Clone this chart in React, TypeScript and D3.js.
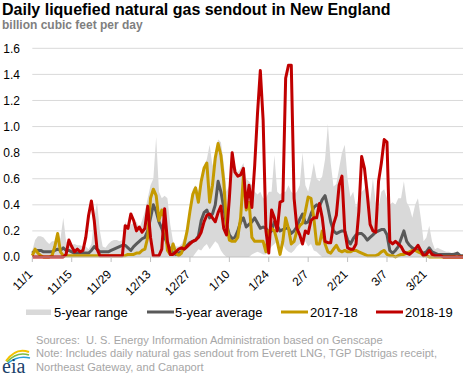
import React from "react";
import * as d3 from "d3";

const tickLabels = ["11/1", "11/15", "11/29", "12/13", "12/27", "1/10", "1/24", "2/7", "2/21", "3/7", "3/21"];
const tickDays = [0, 14, 28, 42, 56, 70, 84, 98, 112, 126, 140];
const yTicks = [0, 0.2, 0.4, 0.6, 0.8, 1.0, 1.2, 1.4, 1.6];

// days since Nov 1, index = day
const sendout2018_19 = [
  0, 0, 0, 0, 0, 0, 0, 0, 0, 0, 0, 0, 0.02, 0.13, 0.08, 0.04, 0.06, 0.04, 0.05, 0.15,
  0.32, 0.43, 0.28, 0.06, 0.01, 0.01, 0.01, 0.01, 0.01, 0.01, 0.01, 0.01, 0.01, 0.24, 0.22, 0.33, 0.28, 0.2, 0.23, 0.19,
  0.22, 0.39, 0.15, 0.01, 0.01, 0.01, 0.06, 0.37, 0.12, 0.02, 0.02, 0.04, 0.06, 0.07, 0.06, 0.08, 0.1, 0.12, 0.13, 0.15,
  0.19, 0.27, 0.32, 0.33, 0.3, 0.27, 0.34, 0.39, 0.22, 0.17, 0.45, 0.8, 0.65, 0.62, 0.63, 0.68, 0.38, 0.55, 0.38, 0.7,
  1.1, 1.43, 1.05, 0.2, 0.03, 0.36, 0.3, 0.2, 0.42, 0.43, 1.37, 1.47, 1.47, 0.45, 0.22, 0.17, 0.1, 0.2, 0.18, 0.28,
  0.3, 0.3, 0.41, 0.3, 0.12, 0.11, 0.11, 0.25, 0.32, 0.55, 0.62, 0.2, 0.07, 0.06, 0.06, 0.1, 0.35, 0.77, 0.68, 0.48,
  0.25, 0.2, 0.19, 0.58, 0.72, 0.9, 0.88, 0.12, 0.1, 0.12, 0.1, 0.08, 0.04, 0.03, 0.02, 0.04, 0.06, 0.09, 0.05, 0.01,
  0.02, 0.05, 0.02, 0.01, 0.01, 0.01, 0, 0, 0, 0, 0, 0, 0, 0,
];

const sendout2017_18 = [
  0.01, 0.06, 0.03, 0.01, 0, 0, 0, 0.01, 0.08, 0.18, 0.04, 0.01, 0.01, 0.01, 0.01, 0.01, 0.01, 0.01, 0.01, 0.01,
  0.01, 0.01, 0.01, 0.01, 0.01, 0.01, 0.01, 0.01, 0.01, 0.01, 0.01, 0.01, 0.01, 0.01, 0.02, 0.02, 0.02, 0.03, 0.03, 0.05,
  0.06, 0.15, 0.45, 0.52, 0.47, 0.28, 0.36, 0.3, 0.05, 0.02, 0.1, 0.03, 0.01, 0.03, 0.1, 0.2, 0.35, 0.48, 0.53, 0.42,
  0.58, 0.68, 0.72, 0.42, 0.55, 0.76, 0.87, 0.78, 0.58, 0.25, 0.13, 0.12, 0.12, 0.15, 0.3, 0.62, 0.36, 0.42, 0.15, 0.12,
  0.12, 0.12, 0.12, 0.04, 0.2, 0.22, 0.2, 0.12, 0.02, 0.12, 0.3, 0.22, 0.1, 0.12, 0.2, 0.24, 0.26, 0.35, 0.46, 0.45,
  0.3, 0.1, 0.1, 0.2, 0.1, 0.04, 0.03, 0.06, 0.09, 0.05, 0.04, 0.05, 0.04, 0.04, 0.05, 0.05, 0.04, 0.03, 0.02, 0.01,
  0.01, 0.01, 0.01, 0.02, 0.04, 0.05, 0.02, 0.01, 0.01, 0, 0.01, 0.02, 0.02, 0.03, 0.04, 0.05, 0.05, 0.04, 0.03, 0.01,
  0.01, 0, 0, 0, 0, 0, 0, 0, 0, 0, 0, 0, 0, 0,
];

const fiveYearAvg = [
  0.03, 0.05, 0.05, 0.05, 0.04, 0.04, 0.04, 0.04, 0.05, 0.06, 0.05, 0.07, 0.05, 0.05, 0.04, 0.03, 0.03, 0.03, 0.03, 0.03,
  0.03, 0.05, 0.08, 0.06, 0.04, 0.04, 0.04, 0.04, 0.05, 0.06, 0.07, 0.08, 0.09, 0.09, 0.07, 0.05, 0.08, 0.1, 0.12, 0.14,
  0.15, 0.2, 0.3, 0.4, 0.35, 0.27, 0.22, 0.15, 0.1, 0.06, 0.03, 0.02, 0.03, 0.04, 0.07, 0.09, 0.11, 0.12, 0.13, 0.16,
  0.28, 0.34, 0.36, 0.3, 0.33, 0.4, 0.58, 0.5, 0.38, 0.25, 0.17, 0.14, 0.15, 0.2, 0.27, 0.3, 0.23, 0.25, 0.27, 0.3,
  0.26, 0.22, 0.23, 0.22, 0.18, 0.2, 0.27, 0.24, 0.2, 0.21, 0.22, 0.22, 0.18, 0.2, 0.23, 0.29, 0.33, 0.26, 0.27, 0.33,
  0.38, 0.4, 0.39, 0.44, 0.47, 0.38, 0.27, 0.2, 0.18, 0.19, 0.2, 0.2, 0.13, 0.1, 0.14, 0.17, 0.18, 0.18, 0.16, 0.13,
  0.15, 0.17, 0.19, 0.2, 0.21, 0.21, 0.17, 0.05, 0.03, 0.05, 0.08, 0.14, 0.2, 0.12, 0.09, 0.07, 0.06, 0.05, 0.04, 0.03,
  0.04, 0.07, 0.04, 0.03, 0.02, 0.02, 0.02, 0.02, 0.02, 0.02, 0.02, 0.03, 0.01, 0.01,
];

const rangeMax = [
  0.05, 0.13, 0.16, 0.16, 0.15, 0.12, 0.1, 0.12, 0.12, 0.19, 0.14, 0.3, 0.12, 0.1, 0.09, 0.1, 0.09, 0.09, 0.08, 0.08,
  0.06, 0.1, 0.3, 0.42, 0.2, 0.08, 0.07, 0.1, 0.12, 0.13, 0.13, 0.12, 0.13, 0.27, 0.22, 0.25, 0.26, 0.27, 0.22, 0.28,
  0.35, 0.45, 0.55, 0.6, 0.92, 0.5, 0.45, 0.47, 0.45, 0.25, 0.12, 0.08, 0.08, 0.1, 0.15, 0.22, 0.38, 0.52, 0.55, 0.5,
  0.62, 0.7, 0.75, 0.86, 0.7, 0.8, 0.9, 0.88, 0.72, 0.5, 0.55, 0.82, 0.7, 0.65, 0.68, 0.72, 0.6, 0.58, 0.55, 0.5,
  0.48, 0.5, 0.45, 0.45, 0.5, 0.5, 0.78, 0.5, 0.48, 0.5, 0.5, 0.55, 0.5, 0.48, 0.5, 0.55, 0.8, 0.55, 0.5, 0.6,
  0.72, 0.6, 0.58, 0.62, 0.75, 1.02, 0.72, 0.54, 0.56, 0.68, 0.8, 0.86, 0.6, 0.46, 0.5, 0.38, 0.45, 0.5, 0.52, 0.6,
  0.42, 0.6, 0.42, 0.38, 0.5, 0.52, 0.45, 0.4, 0.42, 0.4, 0.45, 0.45, 0.58, 0.42, 0.38, 0.3, 0.4, 0.45, 0.3, 0.12,
  0.15, 0.24, 0.12, 0.06, 0.07, 0.06, 0.05, 0.04, 0.04, 0.03, 0.04, 0.03, 0.02, 0.01,
];

const rangeMin = [
  0, 0, 0, 0, 0, 0, 0, 0, 0, 0, 0, 0, 0, 0, 0, 0, 0, 0, 0, 0,
  0, 0, 0, 0, 0, 0, 0, 0, 0, 0, 0, 0, 0, 0, 0, 0, 0, 0, 0, 0,
  0, 0, 0, 0, 0, 0, 0, 0, 0, 0, 0, 0, 0, 0, 0, 0, 0, 0, 0.03, 0.06,
  0.05, 0.08, 0.1, 0.06, 0.09, 0.12, 0.1, 0.05, 0.02, 0, 0, 0, 0, 0, 0, 0, 0, 0, 0.02, 0.03,
  0.04, 0.03, 0.02, 0.02, 0.05, 0.08, 0.1, 0.12, 0.02, 0.1, 0.06, 0.04, 0.03, 0.05, 0.08, 0.1, 0.1, 0.12, 0.08, 0.1,
  0.05, 0.04, 0.02, 0, 0, 0, 0, 0, 0, 0, 0, 0, 0, 0, 0, 0, 0, 0, 0, 0,
  0, 0, 0, 0, 0, 0, 0, 0, 0, 0, 0, 0, 0, 0, 0, 0, 0, 0, 0, 0,
  0, 0, 0, 0, 0, 0, 0, 0, 0, 0, 0, 0, 0, 0,
];

const FONT = "'Liberation Sans', Arial, sans-serif";

export default function App() {
  const W = 468, H = 378;
  const x = d3.scaleLinear().domain([0, 153]).range([32.3, 463]);
  const y = d3.scaleLinear().domain([0, 1.6]).range([257, 48.3]);
  const days = d3.range(sendout2018_19.length);

  const area = d3
    .area<number>()
    .x((d) => x(d))
    .y0((d) => y(rangeMin[d]))
    .y1((d) => y(rangeMax[d]));
  const line = (arr: number[]) =>
    d3
      .line<number>()
      .x((d) => x(d))
      .y((d) => y(arr[d]))(days) as string;

  const legend = [
    { label: "5-year range", kind: "rect", color: "#d9d9d9", x0: 26, tx: 54 },
    { label: "5-year average", kind: "line", color: "#595959", x0: 147, tx: 175 },
    { label: "2017-18", kind: "line", color: "#c59a00", x0: 281, tx: 310 },
    { label: "2018-19", kind: "line", color: "#c00000", x0: 376, tx: 405 },
  ];

  return (
    <svg width={W} height={H} style={{ position: "absolute", left: 0, top: 0, background: "#fff" }} fontFamily={FONT}>
      <rect x={0} y={0} width={W} height={H} fill="#fff" />
      <text x={2} y={15} fontSize={16} fontWeight="bold" fill="#000">
        Daily liquefied natural gas sendout in New England
      </text>
      <text x={2} y={29} fontSize={12} fontWeight="bold" fill="#7f7f7f">
        billion cubic feet per day
      </text>

      {yTicks.map((t) => (
        <g key={t}>
          {t > 0 && <line x1={32.3} x2={463} y1={y(t)} y2={y(t)} stroke="#d9d9d9" strokeWidth={1} />}
          <text x={20} y={y(t) + 4.3} fontSize={12} textAnchor="end" fill="#000">
            {t.toFixed(1)}
          </text>
        </g>
      ))}

      <path d={area(days) as string} fill="#d9d9d9" />
      <path d={line(fiveYearAvg)} fill="none" stroke="#595959" strokeWidth={3} strokeLinejoin="round" />
      <path d={line(sendout2017_18)} fill="none" stroke="#c59a00" strokeWidth={3} strokeLinejoin="round" />
      <path d={line(sendout2018_19)} fill="none" stroke="#c00000" strokeWidth={3} strokeLinejoin="round" />

      <line x1={32.3} x2={463} y1={257} y2={257} stroke="#bfbfbf" strokeWidth={1} />
      {tickDays.map((d, i) => (
        <g key={d}>
          <line x1={x(d)} x2={x(d)} y1={257} y2={262} stroke="#bfbfbf" strokeWidth={1} />
          <text
            transform={`translate(${x(d) + 1},${275}) rotate(-45)`}
            fontSize={12}
            textAnchor="end"
            fill="#000"
          >
            {tickLabels[i]}
          </text>
        </g>
      ))}

      {legend.map((l) => (
        <g key={l.label}>
          {l.kind === "rect" ? (
            <rect x={l.x0} y={309.5} width={25} height={5.5} fill={l.color} />
          ) : (
            <line x1={l.x0} x2={l.x0 + 27} y1={312} y2={312} stroke={l.color} strokeWidth={3} />
          )}
          <text x={l.tx} y={316.5} fontSize={13} fill="#000">
            {l.label}
          </text>
        </g>
      ))}

      <g fontSize={11.1} fill="#a6a6a6">
        <text x={36} y={343.5} xmlSpace="preserve">Sources:  U. S. Energy Information Administration based on Genscape</text>
        <text x={36} y={357.3}>Note: Includes daily natural gas sendout from Everett LNG, TGP Distrigas receipt,</text>
        <text x={36} y={371}>Northeast Gateway, and Canaport</text>
      </g>

      <g>
        <path d="M6,361 Q16,347 29,352" fill="none" stroke="#f2c200" strokeWidth={2} />
        <path d="M7,362 Q17,351 29,355" fill="none" stroke="#7fba42" strokeWidth={1.6} />
        <path d="M8,363 Q18,355 30,358" fill="none" stroke="#2a9fd8" strokeWidth={1.6} />
        <text x={2} y={373} fontSize={20} fontFamily="'Liberation Serif', 'DejaVu Serif', serif" fill="#1b3f6b">
          eia
        </text>
      </g>
    </svg>
  );
}
